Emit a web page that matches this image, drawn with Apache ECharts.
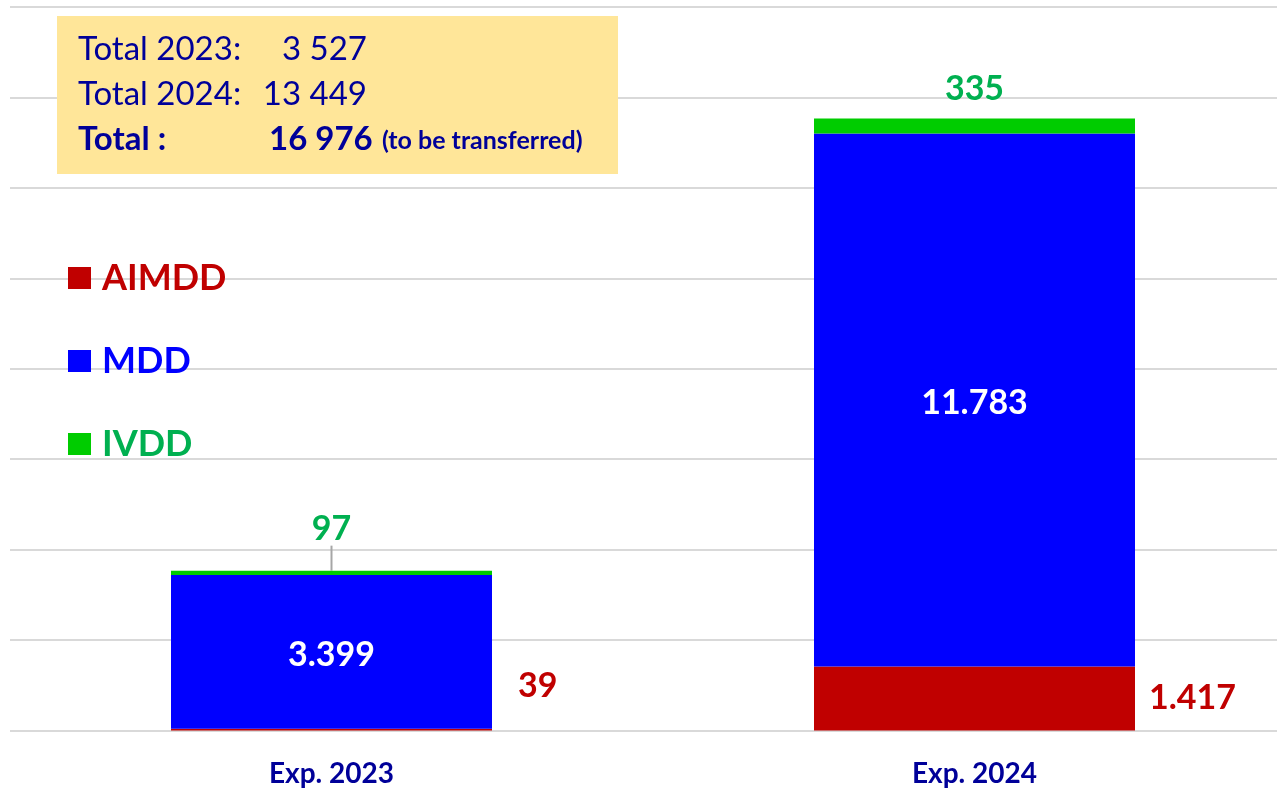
<!DOCTYPE html>
<html>
<head>
<meta charset="utf-8">
<script src="https://cdn.jsdelivr.net/npm/echarts@6/dist/echarts.min.js"></script>
<style>
  html, body { margin: 0; padding: 0; background: #fff; }
  #chart { width: 1277px; height: 789px; }
</style>
</head>
<body>
<div id="chart"></div>
<script>
// data
const categories = ['Exp. 2023', 'Exp. 2024'];
const aimdd = [39, 1417];
const mdd = [3399, 11783];
const ivdd = [97, 335];
const totalLines = [
  ['Total 2023:', '3 527'],
  ['Total 2024:', '13 449']
];
const grandTotal = '16 976';

const FONT = 'Lato, "Open Sans", sans-serif';
const NAVY = '#000099';
const RED = '#C00000';
const BLUE = '#0000FF';
const GREEN = '#00CC00';
const GREEN_TXT = '#00B050';

// dots as thousands separator, like the labels in the picture
const fmt = v => v >= 1000 ? String(v).replace(/\B(?=(\d{3})+(?!\d))/g, '.') : String(v);

let chart = echarts.init(document.getElementById('chart'));

let boxTexts = [];
totalLines.forEach((row, i) => {
  boxTexts.push({
    type: 'text', left: 78, top: 33 + i * 45, z: 20,
    style: { text: row[0], fill: NAVY, font: '33px ' + FONT }
  });
  boxTexts.push({
    type: 'text', right: 1277 - 367, top: 33 + i * 45, z: 20,
    style: { text: row[1], fill: NAVY, font: '33px ' + FONT }
  });
});
boxTexts.push(
  { type: 'text', left: 78, top: 123, z: 20,
    style: { text: 'Total :', fill: NAVY, font: 'bold 33px ' + FONT } },
  { type: 'text', left: 269, top: 123, z: 20,
    style: { text: grandTotal, fill: NAVY, font: 'bold 33px ' + FONT } },
  { type: 'text', left: 382, top: 128, z: 20,
    style: { text: '(to be transferred)', fill: NAVY, font: 'bold 25px ' + FONT } }
);

let option = {
  animation: false,
  textStyle: { fontFamily: FONT },
  grid: { left: 10, width: 1286, top: 7, bottom: 58.5, outerBoundsMode: 'none' },
  legend: {
    orient: 'vertical',
    left: 63,
    top: 255,
    itemGap: 47,
    itemWidth: 23,
    itemHeight: 22,
    icon: 'rect',
    selectedMode: false,
    data: [
      { name: 'AIMDD', textStyle: { color: RED } },
      { name: 'MDD', textStyle: { color: BLUE } },
      { name: 'IVDD', textStyle: { color: GREEN_TXT } }
    ],
    textStyle: { fontSize: 36, fontWeight: 'bold', fontFamily: FONT, padding: [0, 0, 0, 6] }
  },
  xAxis: {
    type: 'category',
    data: categories,
    axisLine: { show: false },
    axisTick: { show: false },
    axisLabel: { color: NAVY, fontSize: 28, fontWeight: 'bold', margin: 29, fontFamily: FONT }
  },
  yAxis: {
    type: 'value',
    min: 0,
    max: 16000,
    interval: 2000,
    axisLabel: { show: false },
    axisLine: { show: false },
    axisTick: { show: false },
    splitLine: { lineStyle: { color: '#D9D9D9', width: 2 } }
  },
  series: [
    {
      name: 'AIMDD',
      type: 'bar',
      stack: 'exp',
      barWidth: 321,
      itemStyle: { color: RED },
      label: {
        show: true, position: 'right', distance: 14,
        color: RED, fontSize: 34, fontWeight: 'bold', fontFamily: FONT,
        formatter: p => fmt(p.value)
      },
      data: [
        { value: aimdd[0], label: { offset: [12, -44] } },
        aimdd[1]
      ]
    },
    {
      name: 'MDD',
      type: 'bar',
      stack: 'exp',
      itemStyle: { color: BLUE },
      label: {
        show: true, position: 'inside', offset: [0, 3],
        color: '#fff', fontSize: 34, fontWeight: 'bold', fontFamily: FONT,
        formatter: p => fmt(p.value)
      },
      data: mdd
    },
    {
      name: 'IVDD',
      type: 'bar',
      stack: 'exp',
      itemStyle: { color: GREEN },
      label: {
        show: true, position: 'top', distance: 12,
        color: GREEN_TXT, fontSize: 34, fontWeight: 'bold', fontFamily: FONT,
        formatter: p => fmt(p.value)
      },
      labelLine: { show: true, lineStyle: { color: '#A6A6A6', width: 2 } },
      labelLayout: p => p.dataIndex === 0 ? { dy: -13 } : {},
      data: [
        ivdd[0],
        { value: ivdd[1], labelLine: { show: false } }
      ]
    }
  ],
  graphic: [
    {
      type: 'rect',
      left: 57, top: 16,
      shape: { width: 561, height: 158 },
      style: { fill: '#FFE699' },
      z: 10
    }
  ].concat(boxTexts)
};

chart.setOption(option);
</script>
</body>
</html>
